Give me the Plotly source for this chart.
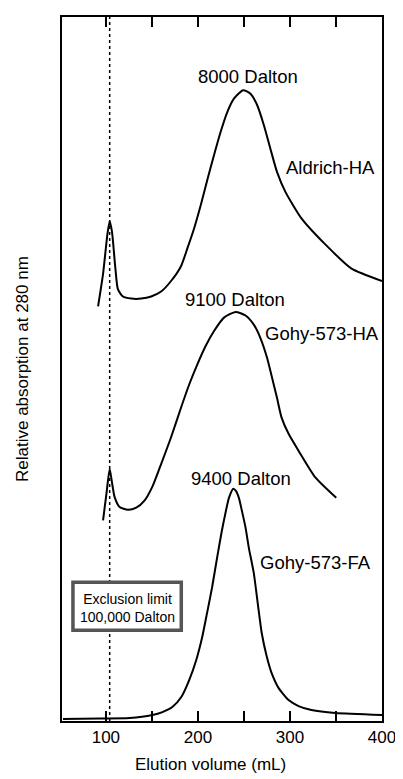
import plotly.graph_objects as go

# ---- data (elution volume mL, relative absorption arbitrary units 0-100) ----
aldrich_x = [91.5, 96.9, 101.6, 104.1, 106.6, 110.3, 113.1, 118.5, 127.6, 138.4, 149.2, 160.0,
             170.8, 181.6, 188.7, 195.9, 203.1, 210.3, 217.5, 224.7, 231.9, 239.1, 249.1, 257.1,
             264.3, 271.5, 278.7, 285.9, 294.9, 312.5, 338.4, 366.5, 400.0]
aldrich_y = [58.9, 63.5, 69.1, 71.0, 69.5, 64.3, 61.3, 60.3, 60.0, 60.0, 60.3, 61.0,
             62.5, 64.6, 67.2, 70.0, 73.3, 76.9, 80.4, 83.7, 86.5, 88.4, 89.6, 89.1,
             87.5, 84.7, 81.3, 78.0, 75.2, 71.4, 67.7, 64.3, 62.5]

gohy_ha_x = [96.9, 100.6, 104.1, 106.6, 109.5, 114.9, 123.9, 133.0, 141.9, 150.9, 160.0, 170.8,
             181.6, 190.5, 199.5, 208.5, 217.5, 228.3, 240.9, 251.7, 260.7, 267.9, 275.1, 280.5,
             285.9, 290.9, 298.5, 309.3, 327.6, 350.3]
gohy_ha_y = [28.5, 32.3, 35.8, 33.9, 31.8, 30.4, 30.0, 30.3, 31.3, 33.4, 36.5, 40.3,
             44.5, 47.8, 50.7, 53.3, 55.4, 57.3, 58.1, 57.6, 56.3, 54.4, 51.6, 48.8,
             45.9, 43.1, 40.8, 38.4, 34.6, 31.7]

gohy_fa_x = [53.4, 93.3, 125.7, 150.6, 161.4, 172.2, 181.9, 190.5, 198.1, 204.6, 210.0, 215.4,
             220.7, 226.1, 230.5, 233.7, 238.4, 241.3, 244.5, 247.7, 251.7, 255.3, 260.7, 265.0,
             269.3, 274.7, 280.1, 287.7, 298.5, 309.3, 323.3, 349.2, 400.0]
gohy_fa_y = [0.28, 0.35, 0.42, 0.85, 1.27, 1.98, 3.40, 5.81, 8.64, 11.9, 15.4, 19.0,
             23.1, 27.1, 29.9, 31.7, 33.0, 32.7, 31.7, 29.9, 27.5, 24.6, 21.0, 16.7,
             12.5, 9.2, 6.8, 4.67, 2.97, 2.12, 1.56, 1.13, 0.85]

exclusion_limit_x = 104.1

tick_vals = [100, 150, 200, 250, 300, 350, 400]
tick_text = ["100", "", "200", "", "300", "", "400"]

FONT = "Liberation Sans, Arial, Helvetica, sans-serif"

fig = go.Figure()
for xs, ys in [(aldrich_x, aldrich_y), (gohy_ha_x, gohy_ha_y), (gohy_fa_x, gohy_fa_y)]:
    fig.add_trace(go.Scatter(x=xs, y=ys, mode="lines",
                             line=dict(color="black", width=2, shape="spline", smoothing=0.6),
                             showlegend=False, hoverinfo="skip"))

# exclusion limit dotted line
fig.add_shape(type="line", x0=exclusion_limit_x, x1=exclusion_limit_x, y0=0, y1=100,
              xref="x", yref="y", line=dict(color="black", width=1.5, dash="dot"))

# box around exclusion limit label
fig.add_shape(type="rect", x0=64.2, x1=181.9, y0=12.9, y1=19.7, xref="x", yref="y",
              line=dict(color="#555555", width=3.5), fillcolor="white", layer="above")

labels = [
    ("8000 Dalton", 254.2, 91.5),
    ("Aldrich-HA", 343.5, 78.6),
    ("9100 Dalton", 240.2, 59.9),
    ("Gohy-573-HA", 335.2, 55.0),
    ("9400 Dalton", 247.0, 34.4),
    ("Gohy-573-FA", 327.6, 22.5),
]
for txt, x, y in labels:
    fig.add_annotation(x=x, y=y, text=txt, showarrow=False, xanchor="center", yanchor="middle",
                       font=dict(family=FONT, size=18.5, color="black"))

fig.add_annotation(x=123.0, y=16.0, text="Exclusion limit<br>100,000 Dalton", showarrow=False,
                   xanchor="center", yanchor="middle", align="center",
                   font=dict(family=FONT, size=14, color="black"))

# axis titles
fig.add_annotation(xref="paper", yref="paper", x=0.463, y=-0.0623, text="Elution volume (mL)",
                   showarrow=False, xanchor="center", yanchor="middle",
                   font=dict(family=FONT, size=17, color="black"))
fig.add_annotation(xref="paper", yref="paper", x=-0.125, y=0.5, text="Relative absorption at 280 nm",
                   showarrow=False, textangle=-90, xanchor="center", yanchor="middle",
                   font=dict(family=FONT, size=17, color="black"))

# page body has an 8px margin: figure is sized/offset to compensate
fig.update_layout(
    width=395, height=771,
    margin=dict(l=54, r=19, t=7, b=58),
    paper_bgcolor="white", plot_bgcolor="white",
    font=dict(family=FONT, color="black"),
    xaxis=dict(range=[52.3, 400], tickvals=tick_vals, ticktext=tick_text,
               ticks="inside", ticklen=10, tickwidth=2, tickcolor="black",
               showline=True, linewidth=2, linecolor="black", mirror="ticks",
               showgrid=False, zeroline=False, tickfont=dict(size=17, family=FONT, color="black")),
    yaxis=dict(range=[0, 100], showticklabels=False, ticks="",
               showline=True, linewidth=2, linecolor="black", mirror=True,
               showgrid=False, zeroline=False),
)

fig.write_html("out.html")
